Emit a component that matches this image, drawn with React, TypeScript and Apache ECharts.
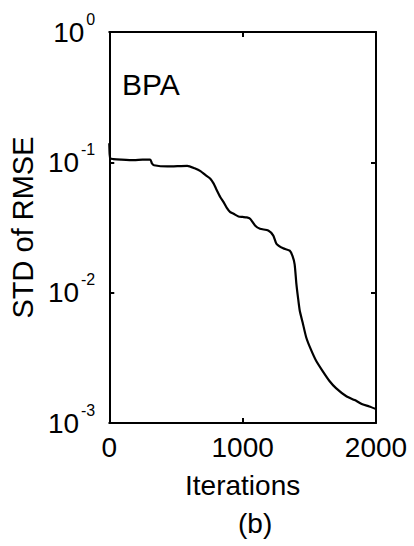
import React, { useEffect, useRef } from "react";
import * as echarts from "echarts";

const iterations = [
  0, 3, 8, 30, 89, 186, 250, 307, 320, 335, 436, 585, 640, 684, 720, 758, 783, 800,
  833, 857, 880, 907, 932, 969, 1000, 1031, 1056, 1093, 1130, 1192, 1230, 1254,
  1304, 1353, 1375, 1390, 1403, 1415, 1428, 1450, 1477, 1510, 1551, 1600, 1651,
  1700, 1775, 1840, 1898, 1950, 2000,
];
const stdRmse = [
  0.14, 0.115, 0.107, 0.106, 0.105, 0.104, 0.105, 0.105, 0.098, 0.095, 0.093, 0.094,
  0.09, 0.0857, 0.08, 0.0749, 0.0686, 0.063, 0.054, 0.0495, 0.045, 0.0415, 0.0403,
  0.0384, 0.0381, 0.0378, 0.0369, 0.0328, 0.0309, 0.03, 0.0274, 0.0237, 0.0219,
  0.021, 0.019, 0.0165, 0.0117, 0.0092, 0.0073, 0.0059, 0.00453, 0.0037, 0.003,
  0.0025, 0.0021, 0.00185, 0.00161, 0.0015, 0.00139, 0.00134, 0.00128,
];
const xTicks = [0, 1000, 2000];
const yDecades = [0.001, 0.01, 0.1, 1];
const xLabel = "Iterations";
const yLabel = "STD of RMSE";
const panelTag = "BPA";
const caption = "(b)";

const FONT = "'Liberation Sans', Arial, Helvetica, sans-serif";

export default function App() {
  const ref = useRef<HTMLDivElement>(null);
  useEffect(() => {
    if (!ref.current) return;
    const chart = echarts.init(ref.current, null, { renderer: "svg" });
    const data = iterations.map((x, i) => [x, stdRmse[i]]);
    const tickStyle = { show: true, inside: true, length: 5, lineStyle: { color: "#000", width: 2 } };
    const lineStyle = { color: "#000", width: 2 };
    const axisLine = { show: true, onZero: false, lineStyle };
    chart.setOption({
      animation: false,
      backgroundColor: "#fff",
      textStyle: { fontFamily: FONT, color: "#000" },
      grid: { left: 108, right: 38, top: 32, bottom: 123, containLabel: false },
      xAxis: [
        {
          type: "value",
          min: xTicks[0],
          max: xTicks[xTicks.length - 1],
          interval: xTicks[1] - xTicks[0],
          axisLine,
          axisTick: tickStyle,
          splitLine: { show: false },
          axisLabel: {
            fontSize: 28,
            color: "#000",
            margin: 10,
            fontFamily: FONT,
            formatter: (v: number) => String(v),
          },
          name: xLabel,
          nameLocation: "middle",
          nameGap: 48,
          nameTextStyle: { fontSize: 28, color: "#000", fontFamily: FONT },
        },
        {
          type: "value",
          position: "top",
          min: xTicks[0],
          max: xTicks[xTicks.length - 1],
          interval: xTicks[1] - xTicks[0],
          axisLine,
          axisTick: tickStyle,
          splitLine: { show: false },
          axisLabel: { show: false },
        },
      ],
      yAxis: [
        {
          type: "log",
          logBase: 10,
          min: yDecades[0],
          max: yDecades[yDecades.length - 1],
          axisLine,
          axisTick: tickStyle,
          minorTick: { show: false },
          splitLine: { show: false },
          axisLabel: {
            margin: 14,
            formatter: (v: number) => {
              const e = Math.round(Math.log10(v));
              return `{b|10}{s|${e}}`;
            },
            rich: {
              b: { fontSize: 28, fontFamily: FONT, color: "#000", padding: [0, 2, 0, 0] },
              s: { fontSize: 16, fontFamily: FONT, color: "#000", padding: [0, 0, 26, 0] },
            },
          },
          name: yLabel,
          nameLocation: "middle",
          nameRotate: 90,
          nameGap: 72,
          nameTextStyle: { fontSize: 29, color: "#000", fontFamily: FONT },
        },
        {
          type: "log",
          logBase: 10,
          position: "right",
          min: yDecades[0],
          max: yDecades[yDecades.length - 1],
          axisLine,
          axisTick: tickStyle,
          splitLine: { show: false },
          axisLabel: { show: false },
        },
      ],
      title: {
        text: caption,
        left: 238,
        top: 509,
        textStyle: { fontSize: 28, fontWeight: "normal", color: "#000", fontFamily: FONT },
        padding: 0,
      },
      graphic: [
        {
          type: "text",
          left: 122,
          top: 69,
          style: { text: panelTag, fontSize: 30, fill: "#000", fontFamily: FONT },
        },
      ],
      series: [
        {
          type: "line",
          data,
          xAxisIndex: 0,
          yAxisIndex: 0,
          showSymbol: false,
          smooth: 0.2,
          lineStyle: { color: "#000", width: 2.2 },
        },
      ],
    });
    return () => chart.dispose();
  }, []);
  return (
    <div
      ref={ref}
      style={{ position: "fixed", left: 0, top: 0, width: 414, height: 546, background: "#fff" }}
    />
  );
}
